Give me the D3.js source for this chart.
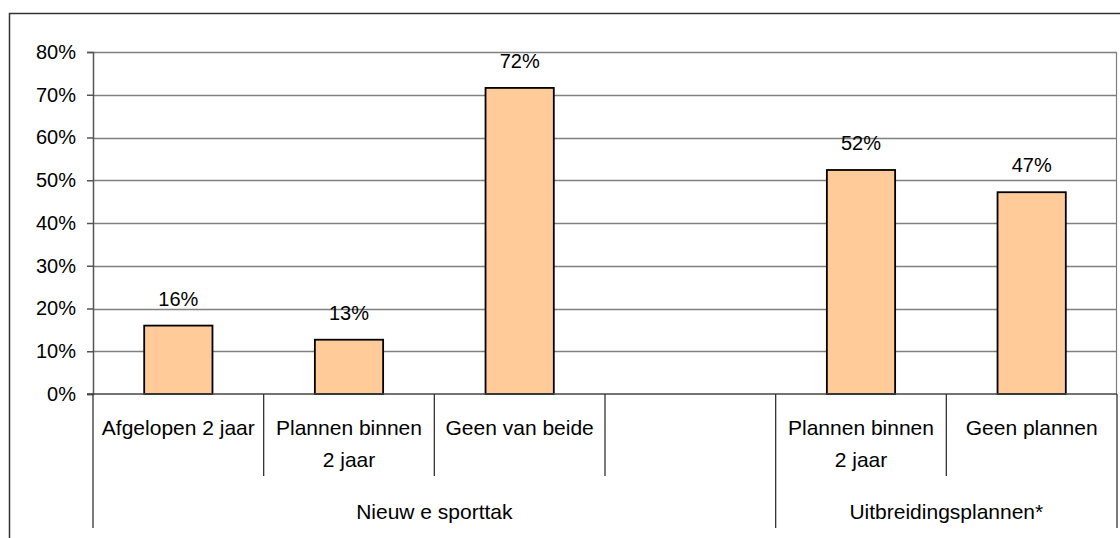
<!DOCTYPE html>
<html lang="nl">
<head>
<meta charset="UTF-8">
<title>sporttak chart</title>
<script src="https://cdn.jsdelivr.net/npm/d3@7"></script>
<style>
    body { margin: 0; background: #fff; }
    #chart { width: 1120px; height: 538px; }
    text { font-family: "Liberation Sans", Arial, sans-serif; fill: #000; }
</style>
</head>
<body>
<div id="chart"></div>
<script>
// data
const categoryLines = [
    ["Afgelopen 2 jaar"],
    ["Plannen binnen", "2 jaar"],
    ["Geen van beide"],
    [],
    ["Plannen binnen", "2 jaar"],
    ["Geen plannen"]
];
const values = [0.16, 0.127, 0.716, null, 0.524, 0.472];
const groupNames = ["Nieuw e sporttak", "Uitbreidingsplannen*"];
const groupSpans = [4, 2];
const yTickValues = [0, 0.1, 0.2, 0.3, 0.4, 0.5, 0.6, 0.7, 0.8];

let draw = () => {
    let svg = d3.select("#chart").append("svg")
        .attr("width", 1120)
        .attr("height", 538);

    // outer frame (clipped at right and bottom like the picture)
    svg.append("path")
        .attr("d", "M9.5,560 L9.5,13.5 L1140,13.5")
        .attr("fill", "none")
        .attr("stroke", "#333")
        .attr("stroke-width", 1.5);

    let padding = { top: 52, left: 93, right: 3, bottom: 144 };
    let width = 1120 - padding.left - padding.right;
    let height = 538 - padding.top - padding.bottom;

    let focus = svg.append("g")
        .attr("transform", "translate(" + padding.left + "," + padding.top + ")");

    let idx = d3.range(values.length);
    let x = d3.scaleBand().domain(idx).range([0, width]).padding(0);
    let y = d3.scaleLinear().domain([0, 0.8]).range([height, 0]);

    // gridlines
    focus.append("g")
        .selectAll("line")
        .data(yTickValues.filter(d => d > 0))
        .join("line")
        .attr("x1", 0).attr("x2", width)
        .attr("y1", d => Math.round(y(d)) + 0.5)
        .attr("y2", d => Math.round(y(d)) + 0.5)
        .attr("stroke", "#808080")
        .attr("stroke-width", 1.5);

    // right edge of plot area
    focus.append("line")
        .attr("x1", width - 0.5).attr("x2", width - 0.5)
        .attr("y1", y(0.8)).attr("y2", height)
        .attr("stroke", "#808080")
        .attr("stroke-width", 1.2);

    // y axis
    let yAxis = d3.axisLeft(y)
        .tickValues(yTickValues)
        .tickFormat(d3.format(".0%"))
        .tickSize(6)
        .tickPadding(11);
    let ya = focus.append("g").call(yAxis);
    ya.select(".domain").attr("stroke", "#555").attr("stroke-width", 1.5);
    ya.selectAll(".tick line").attr("stroke", "#555").attr("stroke-width", 1.5);
    ya.selectAll(".tick text")
        .attr("font-size", 20)
        .attr("font-family", "Liberation Sans, Arial, sans-serif")
        .attr("fill", "#000");

    // bars
    let barW = x.bandwidth() * 0.4;
    let bars = idx.filter(i => values[i] != null);
    focus.append("g")
        .selectAll("rect")
        .data(bars)
        .join("rect")
        .attr("x", i => x(i) + (x.bandwidth() - barW) / 2)
        .attr("y", i => y(values[i]))
        .attr("width", barW)
        .attr("height", i => height - y(values[i]))
        .attr("fill", "#FFCC99")
        .attr("stroke", "#000")
        .attr("stroke-width", 1.8);

    // value labels
    focus.append("g")
        .selectAll("text")
        .data(bars)
        .join("text")
        .attr("x", i => x(i) + x.bandwidth() / 2)
        .attr("y", i => y(values[i]) - 20)
        .attr("text-anchor", "middle")
        .attr("font-size", 20)
        .text(i => d3.format(".0%")(values[i]));

    // zero line
    focus.append("line")
        .attr("x1", -6).attr("x2", width)
        .attr("y1", height).attr("y2", height)
        .attr("stroke", "#444")
        .attr("stroke-width", 1.5);

    // category separators and labels
    let groupEdges = [0];
    groupSpans.forEach((s, k) => groupEdges.push(groupEdges[k] + s));
    let bandEdges = d3.range(values.length + 1);
    focus.append("g")
        .selectAll("line")
        .data(bandEdges)
        .join("line")
        .attr("x1", i => i < values.length ? x(i) : width)
        .attr("x2", i => i < values.length ? x(i) : width)
        .attr("y1", height)
        .attr("y2", i => groupEdges.includes(i) ? height + 134 : height + 82)
        .attr("stroke", "#333")
        .attr("stroke-width", 1.3);

    let cat = focus.append("g")
        .selectAll("text")
        .data(idx)
        .join("text")
        .attr("text-anchor", "middle")
        .attr("font-size", 21)
        .attr("x", i => x(i) + x.bandwidth() / 2)
        .attr("y", height + 41);
    cat.selectAll("tspan")
        .data(i => categoryLines[i])
        .join("tspan")
        .attr("x", function () { return d3.select(this.parentNode).attr("x"); })
        .attr("dy", (d, j) => j === 0 ? 0 : 32)
        .text(d => d);

    // group labels
    focus.append("g")
        .selectAll("text")
        .data(groupNames)
        .join("text")
        .attr("text-anchor", "middle")
        .attr("font-size", 21)
        .attr("x", (d, k) => {
            let a = x(groupEdges[k]);
            let b = groupEdges[k + 1] < values.length ? x(groupEdges[k + 1]) : width;
            return (a + b) / 2;
        })
        .attr("y", height + 125)
        .text(d => d);
};

draw();
</script>
</body>
</html>
